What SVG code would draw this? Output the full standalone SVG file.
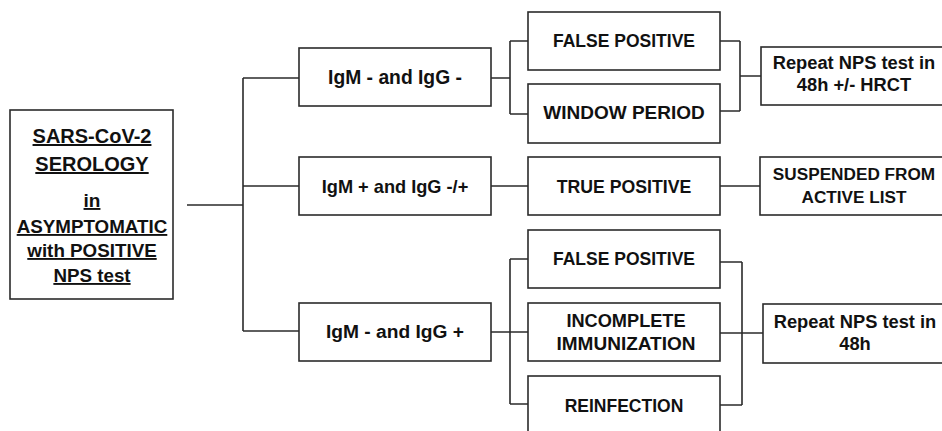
<svg xmlns="http://www.w3.org/2000/svg" width="942" height="431" viewBox="0 0 942 431">
<style>
.box{fill:#fff;stroke:#2b2b2b;stroke-width:1.6}
.ln{fill:none;stroke:#2b2b2b;stroke-width:1.6}
text{font-family:"Liberation Sans",Arial,sans-serif;font-weight:bold;fill:#111;text-anchor:middle}
.u{text-decoration:underline}
</style>
<rect width="942" height="431" fill="#fff"/>
<g id="connectors">
<path class="ln" d="M187 205H243M243 78V331M243 78H299M243 186H299M243 331H299"/>
<path class="ln" d="M491 78H510M510 41V114M510 41H528M510 114H528"/>
<path class="ln" d="M720 41H740M720 111H740M740 41V111M740 76H761"/>
<path class="ln" d="M491 186H528M720 186H760"/>
<path class="ln" d="M491 332H528M510 259V404M510 259H528M510 404H528"/>
<path class="ln" d="M720 262H742M720 333H763M720 405H742M742 262V405"/>
</g>
<g id="main">
<rect class="box" x="10" y="110" width="163" height="189"/>
<text class="u" x="92" y="143" font-size="20">SARS-CoV-2</text>
<text class="u" x="92" y="171" font-size="20">SEROLOGY</text>
<text class="u" x="92" y="207" font-size="19">in</text>
<text class="u" x="92" y="233" font-size="18.8">ASYMPTOMATIC</text>
<text class="u" x="92" y="257" font-size="18.8">with POSITIVE</text>
<text class="u" x="92" y="282" font-size="18.8">NPS test</text>
</g>
<g id="igm-neg-igg-neg">
<rect class="box" x="299" y="48" width="192" height="58"/>
<text x="395" y="84" font-size="19.3">IgM - and IgG -</text>
</g>
<g id="igm-pos">
<rect class="box" x="299" y="157" width="192" height="58"/>
<text x="395" y="193" font-size="18.2">IgM + and IgG -/+</text>
</g>
<g id="igm-neg-igg-pos">
<rect class="box" x="299" y="303" width="192" height="58"/>
<text x="395" y="338" font-size="19.2">IgM - and IgG +</text>
</g>
<g id="false-positive-1">
<rect class="box" x="528" y="12" width="192" height="58"/>
<text x="624" y="47" font-size="17.5">FALSE POSITIVE</text>
</g>
<g id="window-period">
<rect class="box" x="528" y="84" width="192" height="59"/>
<text x="624" y="119" font-size="19">WINDOW PERIOD</text>
</g>
<g id="true-positive">
<rect class="box" x="528" y="157" width="192" height="58"/>
<text x="624" y="193" font-size="17.7">TRUE POSITIVE</text>
</g>
<g id="false-positive-2">
<rect class="box" x="528" y="230" width="192" height="58"/>
<text x="624" y="265" font-size="17.5">FALSE POSITIVE</text>
</g>
<g id="incomplete-immunization">
<rect class="box" x="528" y="303" width="192" height="58"/>
<text x="626" y="327" font-size="18.2">INCOMPLETE</text>
<text x="626" y="350" font-size="19">IMMUNIZATION</text>
</g>
<g id="reinfection">
<rect class="box" x="528" y="376" width="192" height="60"/>
<text x="624" y="412" font-size="17.5">REINFECTION</text>
</g>
<g id="repeat-hrct">
<rect class="box" x="761" y="47" width="186" height="58"/>
<text x="854" y="69" font-size="18.3">Repeat NPS test in</text>
<text x="854" y="91" font-size="18.3">48h +/- HRCT</text>
</g>
<g id="suspended">
<rect class="box" x="760" y="157" width="187" height="58"/>
<text x="854" y="180" font-size="17.2">SUSPENDED FROM</text>
<text x="854" y="203" font-size="17.2">ACTIVE LIST</text>
</g>
<g id="repeat-48h">
<rect class="box" x="763" y="304" width="184" height="59"/>
<text x="855" y="328" font-size="18.3">Repeat NPS test in</text>
<text x="855" y="350" font-size="18.3">48h</text>
</g>
</svg>
